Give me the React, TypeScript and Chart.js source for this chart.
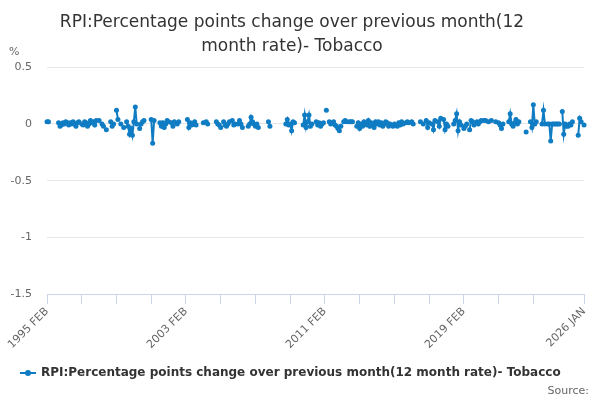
import React, { useEffect, useRef } from "react";
import { Chart, registerables } from "chart.js";

Chart.register(...registerables);

const TITLE_LINES = ["RPI:Percentage points change over previous month(12", "month rate)- Tobacco"];
const SERIES_NAME = "RPI:Percentage points change over previous month(12 month rate)- Tobacco";
const MONTHS = ["JAN", "FEB", "MAR", "APR", "MAY", "JUN", "JUL", "AUG", "SEP", "OCT", "NOV", "DEC"];
const START_YEAR = 1995;
const START_MONTH = 1; // FEB
const LABELED_INDEXES = [0, 96, 192, 288, 371];
const TICK_MARK_INDEXES = [0, 24, 48, 72, 96, 120, 144, 168, 192, 216, 240, 264, 288, 312, 336, 371];
const Y_MIN = -1.5;
const Y_MAX = 0.5;
const Y_STEP = 0.5;

// One row per year, Feb .. Jan
const VALUES: (number | null)[] = [
  0.02, 0.02, null, null, null, null, null, null, 0.01, -0.02, -0.01, 0.01,
  0.0, 0.02, 0.01, -0.01, 0.01, 0.0, 0.02, 0.0, -0.02, 0.01, 0.02, null,
  0.0, -0.01, 0.02, 0.01, -0.02, 0.0, 0.03, 0.01, 0.02, -0.01, 0.03, null,
  0.03, null, 0.0, -0.02, null, -0.05, null, null, 0.02, -0.02, 0.0, null,
  0.12, 0.04, null, 0.0, null, -0.03, null, 0.02, -0.02, -0.09, -0.04, -0.1,
  0.02, 0.15, 0.0, null, -0.04, 0.0, 0.02, 0.03, null, null, null, null,
  0.04, -0.17, 0.03, null, null, null, 0.01, -0.02, 0.01, -0.03, 0.0, 0.03,
  0.02, null, 0.01, -0.02, 0.02, null, 0.0, 0.02, null, null, null, null,
  null, 0.04, -0.03, 0.01, -0.01, 0.0, 0.02, -0.01, null, null, null, null,
  0.01, null, 0.02, 0.0, null, null, null, null, null, 0.02, 0.0, -0.01,
  -0.03, null, 0.02, -0.01, -0.02, 0.0, 0.02, null, 0.03, -0.01, 0.0, null,
  0.0, 0.03, 0.0, -0.03, null, null, null, -0.02, 0.0, 0.06, 0.02, 0.0,
  -0.02, 0.0, -0.03, null, null, null, null, null, null, 0.02, -0.02, null,
  null, null, null, null, null, null, null, null, null, 0.0, 0.04, -0.01,
  0.0, -0.06, 0.02, 0.01, null, null, null, null, null, -0.01, 0.08, -0.03,
  0.02, 0.08, -0.02, 0.0, null, null, 0.02, -0.01, 0.01, -0.02, 0.0, 0.01,
  null, 0.12, null, 0.02, 0.0, 0.01, 0.02, -0.01, -0.02, -0.04, -0.06, -0.02,
  null, 0.02, 0.03, 0.02, null, 0.02, 0.02, 0.02, null, null, -0.02, 0.01,
  -0.04, 0.0, -0.02, 0.02, 0.0, -0.01, 0.03, -0.02, 0.01, 0.0, -0.03, 0.02,
  0.0, 0.02, -0.01, 0.01, -0.02, 0.0, 0.02, 0.01, -0.02, 0.0, null, -0.02,
  0.0, -0.01, -0.02, 0.01, -0.01, 0.02, 0.0, null, 0.01, 0.02, 0.01, null,
  0.02, 0.0, null, null, null, null, 0.02, null, 0.0, null, 0.03, -0.03,
  0.01, null, 0.0, -0.05, 0.03, null, 0.02, -0.02, 0.05, null, 0.04, -0.05,
  0.0, -0.02, null, null, null, 0.0, 0.03, 0.09, -0.06, 0.02, -0.01, null,
  -0.04, -0.02, 0.0, null, -0.05, 0.03, 0.02, -0.01, null, 0.02, 0.0, 0.02,
  0.03, null, 0.03, 0.03, null, 0.02, null, 0.03, null, null, 0.02, null,
  0.01, -0.01, -0.04, 0.0, null, null, null, 0.02, 0.09, 0.0, -0.02, 0.01,
  0.04, 0.0, 0.02, null, null, null, null, -0.07, null, null, 0.02, -0.03,
  0.17, 0.0, 0.02, null, null, null, 0.0, 0.12, 0.0, null, 0.0, 0.0,
  -0.15, 0.0, 0.0, 0.0, 0.0, 0.0, 0.0, null, 0.11, -0.09, 0.0, -0.02,
  -0.02, 0.0, -0.01, 0.02, null, null, null, -0.1, 0.05, 0.02, null, -0.01,
];

const LABELS: string[] = VALUES.map((_, i) => {
  const m = START_MONTH + i;
  return `${START_YEAR + Math.floor(m / 12)} ${MONTHS[m % 12]}`;
});

const LINE_COLOR = "#0f7cc3";
const FONT = "'DejaVu Sans', sans-serif";

const extras = {
  id: "extras",
  afterDraw(chart: any) {
    const ctx = chart.ctx;
    ctx.save();
    ctx.fillStyle = "#666666";
    ctx.font = `11px ${FONT}`;
    ctx.textBaseline = "middle";
    ctx.textAlign = "left";
    ctx.fillText("%", 9, 52);

    // legend
    const ly = 373;
    ctx.strokeStyle = LINE_COLOR;
    ctx.lineWidth = 2;
    ctx.beginPath();
    ctx.moveTo(20, ly);
    ctx.lineTo(36, ly);
    ctx.stroke();
    ctx.fillStyle = LINE_COLOR;
    ctx.beginPath();
    ctx.arc(28, ly, 3, 0, Math.PI * 2);
    ctx.fill();
    ctx.fillStyle = "#333333";
    ctx.font = `bold 12px ${FONT}`;
    ctx.fillText(SERIES_NAME, 41, ly);

    ctx.fillStyle = "#666666";
    ctx.font = `11px ${FONT}`;
    ctx.textAlign = "right";
    ctx.fillText("Source:", 589, 391);
    ctx.restore();
  },
};

export default function App() {
  const ref = useRef<HTMLCanvasElement>(null);
  useEffect(() => {
    document.body.style.margin = "0";
    const chart = new Chart(ref.current as HTMLCanvasElement, {
      type: "line",
      data: {
        labels: LABELS,
        datasets: [
          {
            label: SERIES_NAME,
            data: VALUES,
            borderColor: LINE_COLOR,
            backgroundColor: LINE_COLOR,
            borderWidth: 2,
            pointRadius: 2.5,
            pointBorderWidth: 0,
            pointBackgroundColor: LINE_COLOR,
            spanGaps: false,
            tension: 0,
          },
        ],
      },
      options: {
        responsive: false,
        animation: false,
        devicePixelRatio: 1,
        layout: { padding: { left: 0, right: 16, top: 0, bottom: 50 } },
        plugins: {
          legend: { display: false },
          tooltip: { enabled: false },
          title: {
            display: true,
            text: TITLE_LINES,
            color: "#333333",
            font: { family: FONT, size: 17, weight: "normal", lineHeight: 1.45 },
            padding: { top: 10, bottom: 8 },
          },
        },
        scales: {
          x: {
            type: "category",
            offset: false,
            grid: {
              display: true,
              drawOnChartArea: false,
              drawTicks: true,
              tickLength: 10,
              color: (c: any) => (TICK_MARK_INDEXES.includes(c.index) ? "#ccd6eb" : "rgba(0,0,0,0)"),
            },
            border: { display: true, color: "#ccd6eb", width: 1 },
            ticks: {
              autoSkip: false,
              maxRotation: 45,
              minRotation: 45,
              padding: 1,
              color: "#666666",
              font: { family: FONT, size: 11 },
              callback: (_v: any, i: number) => (LABELED_INDEXES.includes(i) ? LABELS[i] : ""),
            },
            afterFit: (s: any) => {
              s.height = 56;
            },
          },
          y: {
            min: Y_MIN,
            max: Y_MAX,
            grid: { color: "#e6e6e6", drawTicks: false },
            border: { display: false },
            ticks: {
              stepSize: Y_STEP,
              padding: 15,
              color: "#666666",
              font: { family: FONT, size: 11 },
              callback: (v: any) => `${Number(v)}`,
            },
            afterFit: (s: any) => {
              s.width = 47;
            },
          },
        },
      },
      plugins: [extras],
    } as any);
    return () => chart.destroy();
  }, []);
  return (
    <div style={{ width: 600, height: 400 }}>
      <canvas ref={ref} width={600} height={400} />
    </div>
  );
}
